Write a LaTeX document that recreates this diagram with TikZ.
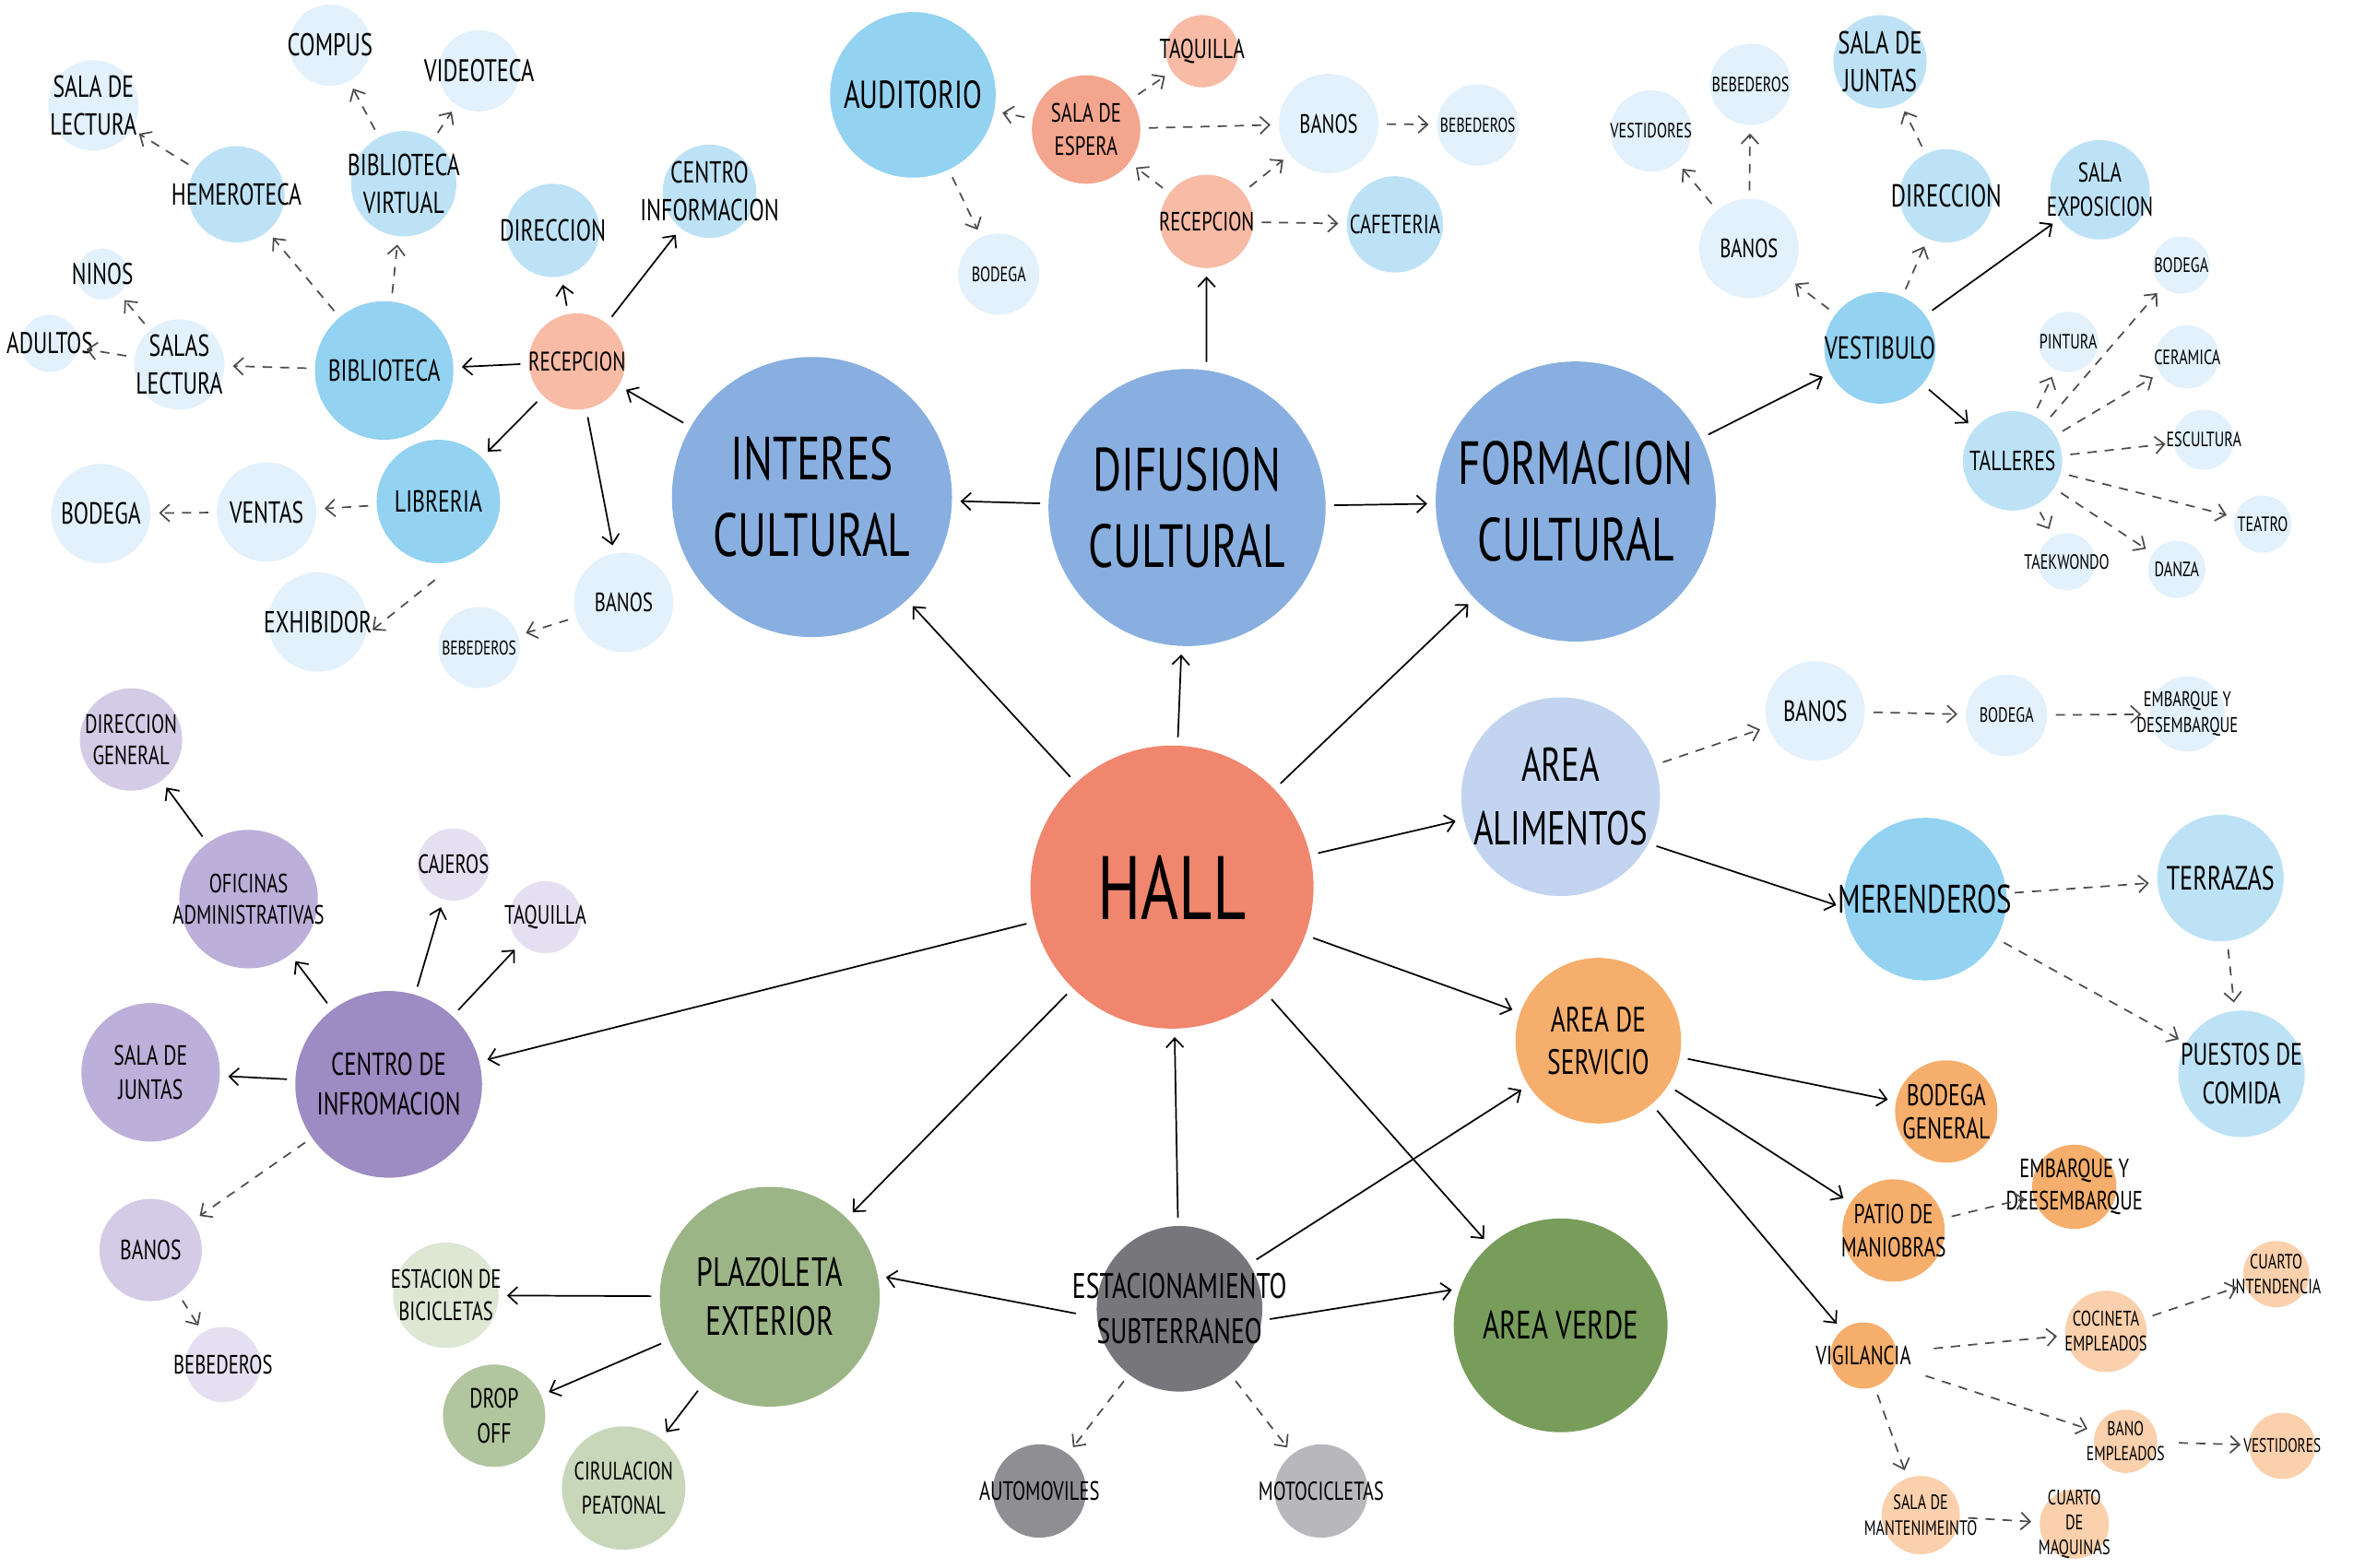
\documentclass[tikz,border=0pt]{standalone}
\usepackage{fontspec}
\setmainfont{PT Sans}[FakeStretch=0.72]
\usetikzlibrary{arrows.meta}

\definecolor{cHall}{HTML}{EF866D}
\definecolor{cCult}{HTML}{88AFDF}
\definecolor{cMid}{HTML}{93D2F1}
\definecolor{cLig}{HTML}{BDE2F6}
\definecolor{cPal}{HTML}{E2F1FB}
\definecolor{cAlim}{HTML}{C2D4F0}
\definecolor{cSal}{HTML}{F8BBA6}
\definecolor{cSalD}{HTML}{F3A58D}
\definecolor{cOra}{HTML}{F6AE6C}
\definecolor{cOraL}{HTML}{FAD0AD}
\definecolor{cVerde}{HTML}{789D5B}
\definecolor{cPlaz}{HTML}{9CB587}
\definecolor{cDrop}{HTML}{B1C59F}
\definecolor{cPeat}{HTML}{C8D7BA}
\definecolor{cBici}{HTML}{DEE6D4}
\definecolor{cEst}{HTML}{77767B}
\definecolor{cAuto}{HTML}{8F8E93}
\definecolor{cMoto}{HTML}{B8B7BB}
\definecolor{cInfo}{HTML}{9D8BC3}
\definecolor{cOfi}{HTML}{BCAFD9}
\definecolor{cDirG}{HTML}{D4CBE7}
\definecolor{cCaj}{HTML}{E5E0F1}

\tikzset{
  bub/.style={circle, inner sep=0pt, minimum size=#1*0.04cm},
  fz/.style 2 args={font=\fontsize{#1}{#2}\selectfont},
  every label/.style={align=center, inner sep=0pt, text=black},
  ln/.style={->, line width=0.6pt, shorten <=3pt, shorten >=3pt},
  dl/.style={ln, draw=black!70, dash pattern=on 3.5pt off 3pt},
}

\begin{document}
\begin{tikzpicture}[x=0.02cm, y=-0.02cm, >={Straight Barb[length=3.5pt,width=6.5pt]}]
    \useasboundingbox (0,0) rectangle (1562,1041);

    %Hall
    \node[bub=94, fill=cHall, label={[fz={34}{40}]center:HALL}] (hall) at (778,589) {};

    %Interes cultural
    \node[bub=93, fill=cCult, label={[fz={23}{29}]center:INTERES\\CULTURAL}] (intc) at (539,330) {};
    \node[bub=32, fill=cSal, label={[fz={10.2}{12.5}]center:RECEPCION}] (recI) at (383,240) {};
    \node[bub=46, fill=cMid, label={[fz={11.5}{14}]center:BIBLIOTECA}] (bibl) at (255,246) {};
    \node[bub=41, fill=cMid, label={[fz={11.5}{14}]center:LIBRERIA}] (libr) at (291,333) {};
    \node[bub=31, fill=cLig, label={[fz={11.5}{14}]center:DIRECCION}] (dirI) at (367,153) {};
    \node[bub=31, fill=cLig, label={[fz={11.5}{14.5}]center:CENTRO\\INFORMACION}] (cinf) at (471,127) {};
    \node[bub=33, fill=cPal, label={[fz={10}{12}]center:BANOS}] (banI) at (414,400) {};
    \node[bub=27, fill=cPal, label={[fz={7.5}{9}]center:BEBEDEROS}] (bebI) at (318,430) {};
    \node[bub=33, fill=cPal, label={[fz={11.5}{14}]center:EXHIBIDOR}] (exhi) at (211,413) {};
    \node[bub=33, fill=cPal, label={[fz={11.5}{14}]center:VENTAS}] (vent) at (177,340) {};
    \node[bub=33, fill=cPal, label={[fz={11.5}{14}]center:BODEGA}] (bodI) at (67,341) {};
    \node[bub=30, fill=cPal, label={[fz={11.5}{14.5}]center:SALAS\\LECTURA}] (sall) at (119,242) {};
    \node[bub=19, fill=cPal, label={[fz={11.3}{13}]center:ADULTOS}] (adul) at (33,228) {};
    \node[bub=17, fill=cPal, label={[fz={11.3}{13}]center:NINOS}] (nino) at (68,182) {};
    \node[bub=32, fill=cLig, label={[fz={11.5}{14}]center:HEMEROTECA}] (heme) at (157,129) {};
    \node[bub=30, fill=cPal, label={[fz={11.5}{14.5}]center:SALA DE\\LECTURA}] (slec) at (62,70) {};
    \node[bub=35, fill=cLig, label={[fz={11.5}{14.5}]center:BIBLIOTECA\\VIRTUAL}] (bvir) at (268,122) {};
    \node[bub=27, fill=cPal, label={[fz={11.9}{13}]center:COMPUS}] (comp) at (219,30) {};
    \node[bub=27, fill=cPal, label={[fz={11.8}{13}]center:VIDEOTECA}] (vide) at (318,47) {};

    \draw[ln] (intc) -- (recI);
    \draw[ln] (recI) -- (bibl);
    \draw[ln] (recI) -- (dirI);
    \draw[ln] (recI) -- (cinf);
    \draw[ln] (recI) -- (libr);
    \draw[ln] (recI) -- (banI);
    \draw[dl] (banI) -- (bebI);
    \draw[dl, shorten <=12pt] (libr.-70) -- (exhi.-15);
    \draw[dl] (libr) -- (vent);
    \draw[dl] (vent) -- (bodI);
    \draw[dl] (bibl) -- (sall);
    \draw[dl] (sall) -- (adul);
    \draw[dl] (sall) -- (nino);
    \draw[dl] (bibl) -- (heme);
    \draw[dl] (bibl) -- (bvir);
    \draw[dl] (heme) -- (slec);
    \draw[dl] (bvir) -- (comp);
    \draw[dl] (bvir) -- (vide);

    %Difusion cultural
    \node[bub=92, fill=cCult, label={[fz={23}{29}]center:DIFUSION\\CULTURAL}] (difc) at (788,337) {};
    \node[bub=55, fill=cMid, label={[fz={14.7}{18}]center:AUDITORIO}] (audi) at (606,63) {};
    \node[bub=36, fill=cSalD, label={[fz={10}{12.5}]center:SALA DE\\ESPERA}] (sesp) at (721,86) {};
    \node[bub=24, fill=cSal, label={[fz={10.4}{12}]center:TAQUILLA}] (taqD) at (798,34) {};
    \node[bub=31, fill=cSal, label={[fz={10}{12}]center:RECEPCION}] (recD) at (801,147) {};
    \node[bub=33, fill=cPal, label={[fz={10}{12}]center:BANOS}] (banD) at (882,82) {};
    \node[bub=27, fill=cPal, label={[fz={7.6}{9}]center:BEBEDEROS}] (bebD) at (981,83) {};
    \node[bub=32, fill=cLig, label={[fz={10}{12}]center:CAFETERIA}] (cafe) at (926,149) {};
    \node[bub=27, fill=cPal, label={[fz={7.8}{9}]center:BODEGA}] (bodD) at (663,182) {};

    \draw[ln] (difc.82) -- (recD);
    \draw[ln] (difc) -- (intc);
    \draw[dl] (recD) -- (sesp);
    \draw[dl] (recD) -- (banD);
    \draw[dl] (recD) -- (cafe);
    \draw[dl] (sesp) -- (audi);
    \draw[dl] (sesp) -- (taqD);
    \draw[dl] (sesp) -- (banD);
    \draw[dl] (banD) -- (bebD);
    \draw[dl] (audi) -- (bodD);

    %Formacion cultural
    \node[bub=93, fill=cCult, label={[fz={23}{29}]center:FORMACION\\CULTURAL}] (forc) at (1046,333) {};
    \node[bub=37, fill=cMid, label={[fz={12}{14}]center:VESTIBULO}] (vest) at (1248,231) {};
    \node[bub=33, fill=cPal, label={[fz={10}{12}]center:BANOS}] (banF) at (1161,165) {};
    \node[bub=27, fill=cPal, label={[fz={7.8}{9}]center:VESTIDORES}] (vesF) at (1096,87) {};
    \node[bub=27, fill=cPal, label={[fz={7.8}{9}]center:BEBEDEROS}] (bebF) at (1162,56) {};
    \node[bub=31, fill=cLig, label={[fz={12}{14}]center:DIRECCION}] (dirF) at (1292,130) {};
    \node[bub=31, fill=cLig, label={[fz={12}{14}]center:SALA DE\\JUNTAS}] (sjuF) at (1248,41) {};
    \node[bub=33, fill=cLig, label={[fz={10.3}{13}]center:SALA\\EXPOSICION}] (sexp) at (1394,126) {};
    \node[bub=33, fill=cLig, label={[fz={10.5}{13}]center:TALLERES}] (tall) at (1336,306) {};
    \node[bub=20, fill=cPal, label={[fz={7.8}{9}]center:PINTURA}] (pint) at (1373,227) {};
    \node[bub=19, fill=cPal, label={[fz={7.8}{9}]center:BODEGA}] (bodF) at (1448,176) {};
    \node[bub=21, fill=cPal, label={[fz={7.8}{9}]center:CERAMICA}] (cera) at (1452,237) {};
    \node[bub=20, fill=cPal, label={[fz={7.8}{9}]center:ESCULTURA}] (escu) at (1463,292) {};
    \node[bub=19, fill=cPal, label={[fz={7.8}{9}]center:TEATRO}] (teat) at (1502,348) {};
    \node[bub=19, fill=cPal, label={[fz={7.8}{9}]center:DANZA}] (danz) at (1445,378) {};
    \node[bub=19, fill=cPal, label={[fz={7.8}{9}]center:TAEKWONDO}] (taek) at (1372,373) {};

    \draw[ln] (difc) -- (forc);
    \draw[ln] (forc) -- (vest);
    \draw[ln] (vest) -- (sexp);
    \draw[ln] (vest) -- (tall);
    \draw[dl] (vest) -- (banF);
    \draw[dl] (vest) -- (dirF);
    \draw[dl] (dirF) -- (sjuF);
    \draw[dl] (banF) -- (vesF);
    \draw[dl] (banF) -- (bebF);
    \draw[dl] (tall) -- (pint);
    \draw[dl] (tall) -- (bodF);
    \draw[dl] (tall) -- (cera);
    \draw[dl] (tall) -- (escu);
    \draw[dl] (tall) -- (teat);
    \draw[dl] (tall) -- (danz);
    \draw[dl] (tall) -- (taek);

    %Area alimentos
    \node[bub=66, fill=cAlim, label={[fz={17.9}{24}]center:AREA\\ALIMENTOS}] (alim) at (1036,529) {};
    \node[bub=33, fill=cPal, label={[fz={11}{13}]center:BANOS}] (banA) at (1205,472) {};
    \node[bub=27, fill=cPal, label={[fz={7.8}{9}]center:BODEGA}] (bodA) at (1332,475) {};
    \node[bub=25, fill=cPal, label={[fz={8}{9.5}]center:EMBARQUE Y\\DESEMBARQUE}] (emba) at (1452,474) {};
    \node[bub=54, fill=cMid, label={[fz={15}{18}]center:MERENDEROS}] (mere) at (1278,597) {};
    \node[bub=42, fill=cLig, label={[fz={12.7}{15}]center:TERRAZAS}] (terr) at (1474,583) {};
    \node[bub=42, fill=cLig, label={[fz={11.7}{14.5}]center:PUESTOS DE\\COMIDA}] (pues) at (1488,713) {};

    \draw[dl] (alim) -- (banA);
    \draw[dl] (banA) -- (bodA);
    \draw[dl] (bodA) -- (emba);
    \draw[ln] (alim.-28) -- (mere.186);
    \draw[dl] (mere) -- (terr);
    \draw[dl] (mere) -- (pues);
    \draw[dl] (terr) -- (pues);

    %Area de servicio
    \node[bub=55, fill=cOra, label={[fz={13.3}{16}]center:AREA DE\\SERVICIO}] (serv) at (1061,691) {};
    \node[bub=34, fill=cOra, label={[fz={11.4}{12.5}]center:BODEGA\\GENERAL}] (bodG) at (1292,738) {};
    \node[bub=34, fill=cOra, label={[fz={10.4}{12.5}]center:PATIO DE\\MANIOBRAS}] (pati) at (1257,817) {};
    \node[bub=28, fill=cOra, label={[fz={10}{12.5}]center:EMBARQUE Y\\DEESEMBARQUE}] (embD) at (1377,788) {};
    \node[bub=22, fill=cOra, label={[fz={10}{12}]center:VIGILANCIA}] (vigi) at (1237,900) {};
    \node[bub=27, fill=cOraL, label={[fz={8}{9.5}]center:COCINETA\\EMPLEADOS}] (coci) at (1398,884) {};
    \node[bub=22, fill=cOraL, label={[fz={7.8}{9.5}]center:CUARTO\\INTENDENCIA}] (cint) at (1511,846) {};
    \node[bub=21, fill=cOraL, label={[fz={7.6}{9.5}]center:BANO\\EMPLEADOS}] (bemp) at (1411,957) {};
    \node[bub=22, fill=cOraL, label={[fz={7.4}{9}]center:VESTIDORES}] (vesS) at (1515,960) {};
    \node[bub=26, fill=cOraL, label={[fz={7.8}{9.5}]center:SALA DE\\MANTENIMEINTO}] (sman) at (1275,1006) {};
    \node[bub=23, fill=cOraL, label={[fz={7.9}{9.5}]center:CUARTO\\DE\\MAQUINAS}] (cmaq) at (1377,1012) {};

    \draw[ln] (serv) -- (bodG);
    \draw[ln] (serv) -- (pati);
    \draw[ln] (serv) -- (vigi);
    \draw[dl] (pati) -- (embD);
    \draw[dl, shorten <=14pt] (vigi) -- (coci);
    \draw[dl] (coci) -- (cint);
    \draw[dl, shorten <=12pt] (vigi) -- (bemp);
    \draw[dl, shorten <=8pt] (bemp) -- (vesS);
    \draw[dl] (vigi) -- (sman);
    \draw[dl] (sman) -- (cmaq);

    %Plazoleta exterior
    \node[bub=73, fill=cPlaz, label={[fz={15.4}{18.5}]center:PLAZOLETA\\EXTERIOR}] (plaz) at (511,861) {};
    \node[bub=35, fill=cBici, label={[fz={10}{12}]center:ESTACION DE\\BICICLETAS}] (ebic) at (296,860) {};
    \node[bub=34, fill=cDrop, label={[fz={10.5}{13}]center:DROP\\OFF}] (drop) at (328,940) {};
    \node[bub=41, fill=cPeat, label={[fz={9.6}{13}]center:CIRULACION\\PEATONAL}] (ciru) at (414,988) {};

    \draw[ln] (plaz) -- (ebic);
    \draw[ln] (plaz) -- (drop);
    \draw[ln] (plaz) -- (ciru);

    %Area verde y estacionamiento
    \node[bub=71, fill=cVerde, label={[fz={15}{18}]center:AREA VERDE}] (verd) at (1036,880) {};
    \node[bub=55, fill=cEst, label={[fz={13.4}{17}]center:ESTACIONAMIENTO\\SUBTERRANEO}] (esta) at (783,869) {};
    \node[bub=31, fill=cAuto, label={[fz={10}{11}]center:AUTOMOVILES}] (auto) at (690,990) {};
    \node[bub=31, fill=cMoto, label={[fz={9.8}{11}]center:MOTOCICLETAS}] (moto) at (877,990) {};

    \draw[dl] (esta) -- (auto);
    \draw[dl] (esta) -- (moto);
    \draw[ln] (esta) -- (hall);
    \draw[ln] (esta) -- (serv);
    \draw[ln] (esta.-8) -- (verd.160);
    \draw[ln, shorten <=8pt] (esta.186) -- (plaz.11);

    %Centro de informacion
    \node[bub=62, fill=cInfo, label={[fz={12}{15}]center:CENTRO DE\\INFROMACION}] (cinfo) at (258,720) {};
    \node[bub=46, fill=cOfi, label={[fz={10}{12}]center:OFICINAS\\ADMINISTRATIVAS}] (ofic) at (165,597) {};
    \node[bub=34, fill=cDirG, label={[fz={10}{12}]center:DIRECCION\\GENERAL}] (dirg) at (87,491) {};
    \node[bub=24, fill=cCaj, label={[fz={10}{12}]center:CAJEROS}] (caje) at (301,574) {};
    \node[bub=24, fill=cCaj, label={[fz={10}{12}]center:TAQUILLA}] (taqC) at (362,609) {};
    \node[bub=46, fill=cOfi, label={[fz={10.5}{13}]center:SALA DE\\JUNTAS}] (sjuC) at (100,712) {};
    \node[bub=34, fill=cDirG, label={[fz={10.5}{12}]center:BANOS}] (banC) at (100,830) {};
    \node[bub=25, fill=cCaj, label={[fz={10}{12}]center:BEBEDEROS}] (bebC) at (148,906) {};

    \draw[ln] (cinfo) -- (ofic);
    \draw[ln] (ofic) -- (dirg);
    \draw[ln] (cinfo) -- (caje);
    \draw[ln] (cinfo) -- (taqC);
    \draw[ln] (cinfo) -- (sjuC);
    \draw[dl] (cinfo) -- (banC);
    \draw[dl] (banC) -- (bebC);

    %Salidas del hall
    \draw[ln] (hall) -- (intc);
    \draw[ln] (hall) -- (difc);
    \draw[ln] (hall) -- (forc);
    \draw[ln] (hall) -- (alim);
    \draw[ln] (hall) -- (serv);
    \draw[ln] (hall) -- (verd);
    \draw[ln] (hall) -- (plaz);
    \draw[ln] (hall) -- (cinfo);
\end{tikzpicture}
\end{document}
